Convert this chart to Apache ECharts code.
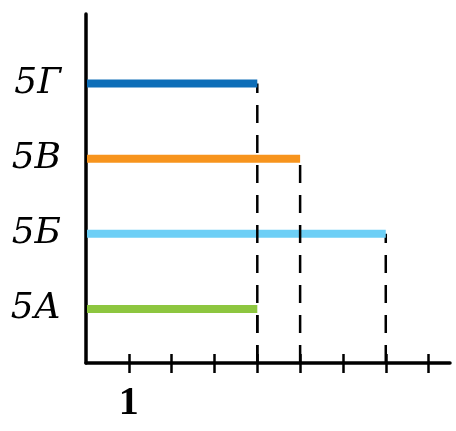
<!DOCTYPE html>
<html><head><meta charset="utf-8">
<script src="https://cdn.jsdelivr.net/npm/echarts@6/dist/echarts.min.js"></script>
<style>html,body{margin:0;padding:0;background:#fff}#c{width:456px;height:431px}</style>
</head><body><div id="c"></div>
<script>
// Data
const categories = ['5А', '5Б', '5В', '5Г'];
const values = [4, 7, 5, 4];
const xTickValues = [1, 2, 3, 4, 5, 6, 7, 8];
const xLabelValues = [1];

// Styles
const barColors = ['#8dc63f', '#6dcff6', '#f7941d', '#0e6eb8'];

const chart = echarts.init(document.getElementById('c'), null, {renderer: 'canvas'});

const baseX = {
  type: 'value', min: 0, max: 8.5, gridIndex: 0, position: 'bottom',
  splitLine: {show: false}
};

chart.setOption({
  animation: false,
  backgroundColor: '#fff',
  grid: {left: 86, right: 6, top: 14, bottom: 68, containLabel: false, outerBoundsMode: 'none'},
  xAxis: [
    Object.assign({}, baseX, {
      axisLine: {show: true, onZero: false, lineStyle: {color: '#000', width: 3.5}},
      axisTick: {show: true, inside: false, length: 10, customValues: xTickValues, lineStyle: {color: '#000', width: 2.5}},
      axisLabel: {show: true, customValues: xLabelValues, color: '#000', fontFamily: 'Liberation Serif', fontWeight: 'bold', fontSize: 40, margin: 21}
    }),
    Object.assign({}, baseX, {
      axisLine: {show: false, onZero: false},
      axisTick: {show: true, inside: true, length: 9, customValues: xTickValues, lineStyle: {color: '#000', width: 2.5}},
      axisLabel: {show: false}
    })
  ],
  yAxis: {
    type: 'value', min: -0.72, max: 3.925,
    splitLine: {show: false},
    axisLine: {show: true, onZero: false, lineStyle: {color: '#000', width: 3.5}},
    axisTick: {show: false},
    axisLabel: {
      show: true, customValues: categories.map((c, i) => i),
      formatter: v => categories[Math.round(v)],
      color: '#000', fontFamily: 'DejaVu Serif', fontStyle: 'italic', fontSize: 36, margin: 25
    }
  },
  series: [{
    type: 'custom',
    xAxisIndex: 0, yAxisIndex: 0,
    data: categories.map((c, i) => [values[i], i]),
    renderItem: function (params, api) {
      const v = api.value(0), i = api.value(1);
      const p0 = api.coord([0, i]);
      const p1 = api.coord([v, i]);
      const cs = params.coordSys;
      const bottom = cs.y + cs.height;
      return {
        type: 'group',
        children: [
          {type: 'line', shape: {x1: p1[0], y1: bottom, x2: p1[0], y2: p1[1]},
           style: {stroke: '#000', lineWidth: 2.5, lineDash: [18, 12], fill: null}},
          {type: 'rect', shape: {x: p0[0] + 1, y: p1[1] - 4, width: p1[0] - p0[0] - 1, height: 8},
           style: {fill: barColors[params.dataIndex]}}
        ]
      };
    }
  }]
});
</script></body></html>
